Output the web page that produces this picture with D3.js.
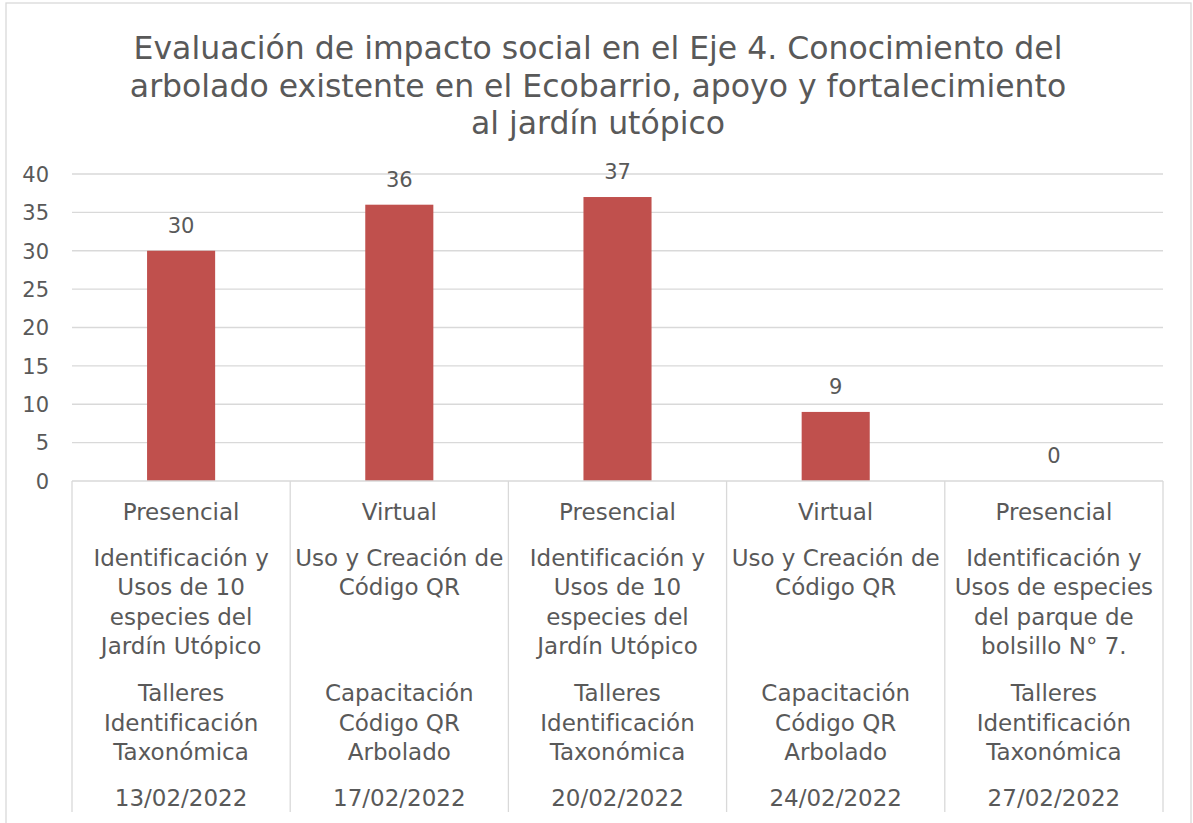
<!DOCTYPE html>
<html lang="es">
<head>
<meta charset="utf-8">
<script src="https://cdn.jsdelivr.net/npm/d3@7/dist/d3.min.js"></script>
<style>
  html, body { margin: 0; padding: 0; background: #ffffff; }
  svg { display: block; }
  text { font-family: "DejaVu Sans", "Noto Sans", sans-serif; fill: #595959; }
</style>
</head>
<body>
<svg id="chart" width="1193" height="823"></svg>
<script>
// Attendance per session
const asistentes = [30, 36, 37, 9, 0];

// Multi-level category labels (one entry per session)
const modalidad = ["Presencial", "Virtual", "Presencial", "Virtual", "Presencial"];
const actividad = [
  ["Identificación y", "Usos de 10", "especies del", "Jardín Utópico"],
  ["Uso y Creación de", "Código QR"],
  ["Identificación y", "Usos de 10", "especies del", "Jardín Utópico"],
  ["Uso y Creación de", "Código QR"],
  ["Identificación y", "Usos de especies", "del parque de", "bolsillo N° 7."]
];
const tipoTaller = [
  ["Talleres", "Identificación", "Taxonómica"],
  ["Capacitación", "Código QR", "Arbolado"],
  ["Talleres", "Identificación", "Taxonómica"],
  ["Capacitación", "Código QR", "Arbolado"],
  ["Talleres", "Identificación", "Taxonómica"]
];
const fechas = ["13/02/2022", "17/02/2022", "20/02/2022", "24/02/2022", "27/02/2022"];

const yTicks = [0, 5, 10, 15, 20, 25, 30, 35, 40];

const titleLines = [
  "Evaluación de impacto social en el Eje 4. Conocimiento del",
  "arbolado existente en el Ecobarrio, apoyo y fortalecimiento",
  "al jardín utópico"
];

const svg = d3.select("#chart");
const plot = { left: 72, right: 1163, top: 174, bottom: 481 };
const gridColor = "#d9d9d9";
const barColor = "#c0504d";

// chart area border
svg.append("rect")
  .attr("x", 6).attr("y", 3)
  .attr("width", 1185).attr("height", 840)
  .attr("fill", "#fff")
  .attr("stroke", gridColor).attr("stroke-width", 1.3);

// title
const title = svg.append("text")
  .attr("text-anchor", "middle")
  .style("font-size", "31.5px");
titleLines.forEach((t, i) => {
  title.append("tspan")
    .attr("x", 598)
    .attr("y", 59 + i * 37.5)
    .text(t);
});

const x = d3.scaleBand()
  .domain(d3.range(asistentes.length))
  .range([plot.left, plot.right])
  .paddingInner(0).paddingOuter(0);

const y = d3.scaleLinear()
  .domain([0, 40])
  .range([plot.bottom, plot.top]);

// horizontal gridlines
svg.append("g")
  .selectAll("line")
  .data(yTicks.filter(d => d > 0))
  .join("line")
  .attr("x1", plot.left).attr("x2", plot.right)
  .attr("y1", d => y(d)).attr("y2", d => y(d))
  .attr("stroke", gridColor).attr("stroke-width", 1.3);

// y axis labels
const yAxis = d3.axisLeft(y).tickValues(yTicks).tickSize(0).tickPadding(0);
const yG = svg.append("g")
  .attr("transform", `translate(${49},0)`)
  .call(yAxis);
yG.select(".domain").remove();
yG.selectAll("text")
  .style("font-size", "21px")
  .attr("fill", "#595959")
  .attr("dy", "0.35em");

// bars
const barW = x.bandwidth() * 0.312;
svg.append("g")
  .selectAll("rect")
  .data(asistentes)
  .join("rect")
  .attr("x", (d, i) => x(i) + x.bandwidth() / 2 - barW / 2)
  .attr("y", d => y(d))
  .attr("width", barW)
  .attr("height", d => y(0) - y(d))
  .attr("fill", barColor);

// value labels
svg.append("g")
  .selectAll("text")
  .data(asistentes)
  .join("text")
  .attr("x", (d, i) => x(i) + x.bandwidth() / 2)
  .attr("y", d => y(d) - 25)
  .attr("dy", "0.35em")
  .attr("text-anchor", "middle")
  .style("font-size", "21px")
  .text(d => d);

// category axis: baseline and group dividers
svg.append("line")
  .attr("x1", plot.left).attr("x2", plot.right)
  .attr("y1", plot.bottom).attr("y2", plot.bottom)
  .attr("stroke", gridColor).attr("stroke-width", 1.3);

const dividers = d3.range(asistentes.length + 1).map(i =>
  i < asistentes.length ? x(i) : x(i - 1) + x.bandwidth());
svg.append("g")
  .selectAll("line")
  .data(dividers)
  .join("line")
  .attr("x1", d => d).attr("x2", d => d)
  .attr("y1", plot.bottom).attr("y2", 812)
  .attr("stroke", gridColor).attr("stroke-width", 1.3);

// category label levels
const lineGap = 29.6;
const catG = svg.append("g")
  .attr("text-anchor", "middle")
  .style("font-size", "23px");

function writeLines(lines, i, y0) {
  const t = catG.append("text");
  lines.forEach((s, k) => {
    t.append("tspan")
      .attr("x", x(i) + x.bandwidth() / 2)
      .attr("y", y0 + k * lineGap)
      .attr("dy", "0.35em")
      .text(s);
  });
}

asistentes.forEach((d, i) => {
  writeLines([modalidad[i]], i, 512);
  writeLines(actividad[i], i, 557.5);
  writeLines(tipoTaller[i], i, 693);
  writeLines([fechas[i]], i, 797.5);
});
</script>
</body>
</html>
